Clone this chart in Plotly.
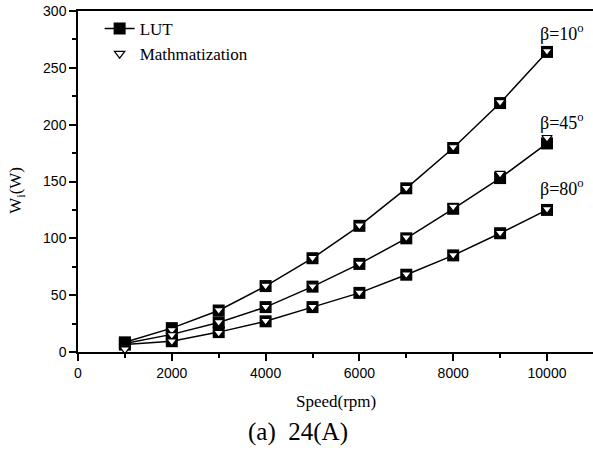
import plotly.graph_objects as go

speed = [1000, 2000, 3000, 4000, 5000, 6000, 7000, 8000, 9000, 10000]

lut_b10 = [8.5, 21, 36.5, 58, 82.5, 111, 144, 179.5, 219, 264]
lut_b45 = [7.5, 15.5, 26, 39.5, 57.5, 77.5, 100, 126, 153, 183.5]
lut_b80 = [6.5, 9.5, 17.5, 27, 39.5, 52, 68, 85, 104.5, 125]

math_b10 = [3.5, 19.5, 37, 58.5, 83, 111.5, 144.5, 180.5, 220, 265]
math_b45 = [3, 15, 26.5, 40, 58, 78, 101, 128, 157, 188.5]
math_b80 = [2.5, 9.5, 17, 27.5, 40, 52.5, 68.5, 85.5, 105, 126]

x_tickvals = [0, 2000, 4000, 6000, 8000, 10000]
x_ticktext = ["0", "2000", "4000", "6000", "8000", "10000"]

labels = ["β=10<sup>o</sup>", "β=45<sup>o</sup>", "β=80<sup>o</sup>"]
label_y = [281, 203, 145]

SERIF = "Liberation Serif"
SANS = "Liberation Sans"

fig = go.Figure()

for i, ys in enumerate([lut_b10, lut_b45, lut_b80]):
    fig.add_trace(go.Scatter(
        x=speed, y=ys, mode="lines+markers", name="LUT",
        showlegend=(i == 0), legendgroup="g",
        line=dict(color="black", width=1.5),
        marker=dict(symbol="square", size=12, color="black"),
    ))

for i, ys in enumerate([math_b10, math_b45, math_b80]):
    fig.add_trace(go.Scatter(
        x=speed, y=ys, mode="markers", name="Mathmatization",
        showlegend=(i == 0), legendgroup="g",
        marker=dict(symbol="triangle-down", size=9, color="white",
                    line=dict(color="black", width=1.2)),
    ))

for txt, yv in zip(labels, label_y):
    fig.add_annotation(x=10330, y=yv, xref="x", yref="y", text=txt,
                       showarrow=False, xanchor="center", yanchor="middle",
                       font=dict(family=SERIF, size=18, color="black"))

fig.add_annotation(x=0.501, y=-0.1437, xref="paper", yref="paper",
                   text="Speed(rpm)", showarrow=False,
                   xanchor="center", yanchor="middle",
                   font=dict(family=SERIF, size=17, color="black"))
fig.add_annotation(x=0.427, y=-0.2346, xref="paper", yref="paper",
                   text="(a)  24(A)", showarrow=False,
                   xanchor="center", yanchor="middle",
                   font=dict(family=SERIF, size=25, color="black"))
fig.add_annotation(x=-0.1184, y=0.473, xref="paper", yref="paper",
                   text="W<sub>i</sub>(W)", showarrow=False, textangle=-90,
                   xanchor="center", yanchor="middle",
                   font=dict(family=SERIF, size=17, color="black"))

fig.update_layout(
    width=593, height=450,
    margin=dict(l=78, r=0, t=11, b=98),
    paper_bgcolor="white", plot_bgcolor="white",
    showlegend=True,
    legend=dict(x=0.042, y=1.0, xanchor="left", yanchor="top",
                bgcolor="rgba(0,0,0,0)", tracegroupgap=0, itemwidth=30,
                font=dict(family=SERIF, size=17, color="black")),
    xaxis=dict(range=[0, 10981], tickvals=x_tickvals, ticktext=x_ticktext,
               showgrid=False, zeroline=False,
               showline=True, linecolor="black", linewidth=1.5, mirror=True,
               ticks="outside", ticklen=7, tickwidth=1.5, tickcolor="black",
               minor=dict(dtick=1000, tick0=0, ticks="outside", ticklen=4,
                          tickwidth=1.5, tickcolor="black", showgrid=False),
               tickfont=dict(family=SANS, size=14, color="black")),
    yaxis=dict(range=[0, 300], dtick=50, tick0=0,
               showgrid=False, zeroline=False,
               showline=True, linecolor="black", linewidth=1.5,
               ticks="outside", ticklen=7, tickwidth=1.5, tickcolor="black",
               minor=dict(dtick=25, tick0=0, ticks="outside", ticklen=4,
                          tickwidth=1.5, tickcolor="black", showgrid=False),
               tickfont=dict(family=SANS, size=14, color="black")),
)

fig.write_html("out.html")
